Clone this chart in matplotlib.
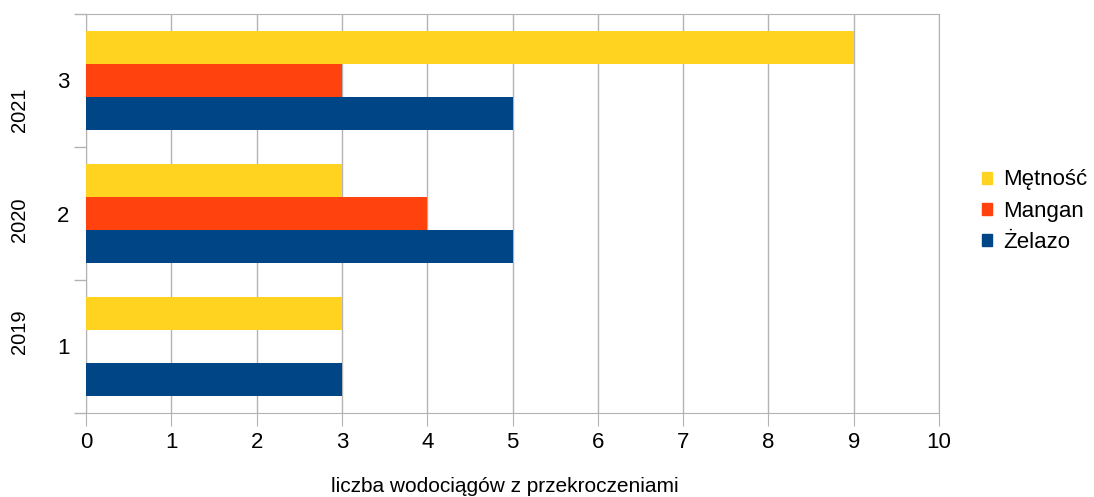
import matplotlib.pyplot as plt
import matplotlib.transforms as mtransforms
from matplotlib.patches import Patch

plt.rcParams['font.family'] = ['Liberation Sans', 'DejaVu Sans']

years = ["2019", "2020", "2021"]
categories = [1, 2, 3]
zelazo = [3, 5, 5]
mangan = [0, 4, 3]
metnosc = [3, 3, 9]

# vertical placement of the year labels (LibreOffice spreads them unevenly)
year_pos = [1.11, 1.95, 2.78]

fig = plt.figure(figsize=(10.94, 4.97), dpi=100)
ax = fig.add_axes([86 / 1094, 1 - 413 / 497, (939 - 86) / 1094, (413 - 14) / 497])

h = 0.25
ax.barh([c - h for c in categories], zelazo, height=h, color="#004586", label="Żelazo", zorder=3)
ax.barh(categories, mangan, height=h, color="#ff420e", label="Mangan", zorder=3)
ax.barh([c + h for c in categories], metnosc, height=h, color="#ffd320", label="Mętność", zorder=3)

ax.set_xlim(0, 10)
ax.set_ylim(0.5, 3.5)
ax.set_xticks(range(0, 11))
ax.set_yticks(categories)
ax.set_yticks([0.5, 1.5, 2.5, 3.5], minor=True)
ax.tick_params(axis="y", which="major", length=0, pad=12, labelsize=16)
ax.tick_params(axis="y", which="minor", length=9, color="#b3b3b3", width=1)
ax.tick_params(axis="x", length=9, color="#b3b3b3", labelsize=16, pad=5)
ax.grid(axis="x", color="#b3b3b3", linewidth=1, zorder=0)
for s in ax.spines.values():
    s.set_color("#b3b3b3")

ax.set_xlabel("liczba wodociągów z przekroczeniami", fontsize=15)
ax.xaxis.set_label_coords((505 - 86) / 853, (413 - 487) / 399)
ax.xaxis.label.set_va("center")

trans = mtransforms.blended_transform_factory(fig.transFigure, ax.transData)
for p, y in zip(year_pos, years):
    ax.text(19 / 1094, p, y, transform=trans, rotation=90, ha="center", va="center", fontsize=14.5)

handles = [Patch(color="#ffd320", label="Mętność"),
           Patch(color="#ff420e", label="Mangan"),
           Patch(color="#004586", label="Żelazo")]
fig.legend(handles=handles, loc="center left", bbox_to_anchor=(962 / 1094, 1 - 211 / 497),
           frameon=False, fontsize=16, handlelength=0.45, handleheight=0.45,
           handletextpad=0.5, labelspacing=0.45)

fig.savefig("out.png", dpi=100)
